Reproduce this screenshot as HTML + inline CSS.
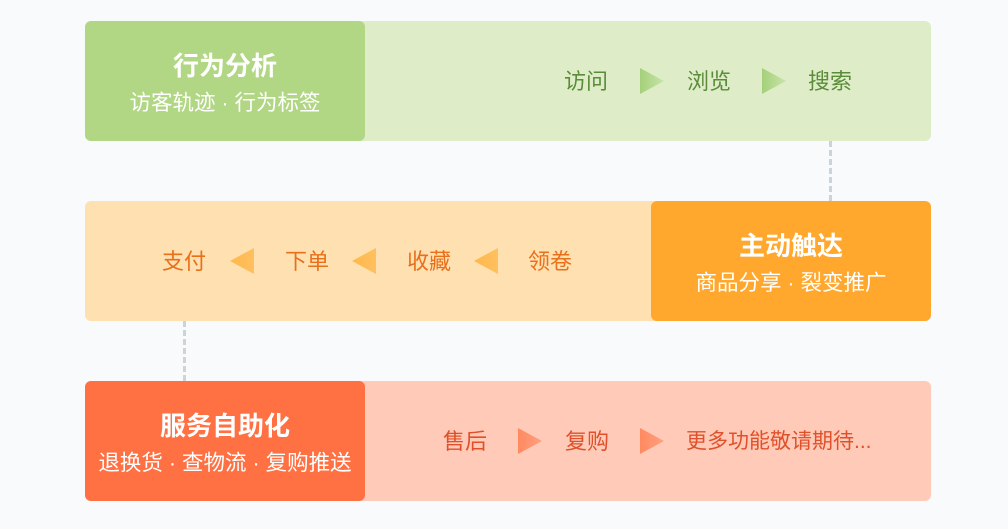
<!DOCTYPE html>
<html><head><meta charset="utf-8"><style>
body{margin:0;width:1008px;height:529px;background:#f9fafc;position:relative;overflow:hidden;font-family:"Liberation Sans","Noto Sans CJK SC",sans-serif}
.row{position:absolute;left:85px;width:846px;height:120px;border-radius:6px}
.box{position:absolute;top:0;width:280px;height:120px;border-radius:6px;color:#fff;text-align:center}
.box .t{position:absolute;left:0;right:0;top:29px;font-size:26px;font-weight:bold;line-height:32px}
.box .s{position:absolute;left:0;right:0;top:68px;font-size:21.5px;line-height:28px;white-space:nowrap}
.it{position:absolute;font-size:22px;line-height:28px;white-space:nowrap;transform:translateX(-50%)}
.ar{position:absolute;width:24px;height:26px}
.dash{position:absolute;width:0;border-left:3px dashed #ccd3d9}
</style></head><body>
<div class="dash" style="left:829px;top:141px;height:60px"></div>
<div class="dash" style="left:183px;top:321px;height:60px"></div>

<div class="row" style="top:21px;background:#deedc8">
 <div class="box" style="left:0;background:#b1d684"><div class="t">行为分析</div><div class="s">访客轨迹 · 行为标签</div></div>
 <div class="it" style="left:501px;top:47px;color:#5b8c3a">访问</div>
 <svg class="ar" style="left:555px;top:47px"><defs><linearGradient id="g1"><stop offset="0" stop-color="#a4d07a"/><stop offset="1" stop-color="#c8e4a8"/></linearGradient></defs><polygon points="0,0 24,13 0,26" fill="url(#g1)"/></svg>
 <div class="it" style="left:624px;top:47px;color:#5b8c3a">浏览</div>
 <svg class="ar" style="left:677px;top:47px"><polygon points="0,0 24,13 0,26" fill="url(#g1)"/></svg>
 <div class="it" style="left:745px;top:47px;color:#5b8c3a">搜索</div>
</div>

<div class="row" style="top:201px;background:#ffe0b0">
 <div class="box" style="left:566px;background:#ffa82d"><div class="t">主动触达</div><div class="s">商品分享 · 裂变推广</div></div>
 <div class="it" style="left:99px;top:47px;color:#e8701a">支付</div>
 <svg class="ar" style="left:145px;top:47px"><defs><linearGradient id="g2"><stop offset="0" stop-color="#ffb84a"/><stop offset="1" stop-color="#ffc060"/></linearGradient></defs><polygon points="24,0 0,13 24,26" fill="url(#g2)"/></svg>
 <div class="it" style="left:222px;top:47px;color:#e8701a">下单</div>
 <svg class="ar" style="left:267px;top:47px"><polygon points="24,0 0,13 24,26" fill="url(#g2)"/></svg>
 <div class="it" style="left:344px;top:47px;color:#e8701a">收藏</div>
 <svg class="ar" style="left:389px;top:47px"><polygon points="24,0 0,13 24,26" fill="url(#g2)"/></svg>
 <div class="it" style="left:465px;top:47px;color:#e8701a">领卷</div>
</div>

<div class="row" style="top:381px;background:#ffcbb8">
 <div class="box" style="left:0;background:#ff7043"><div class="t">服务自助化</div><div class="s">退换货 · 查物流 · 复购推送</div></div>
 <div class="it" style="left:380px;top:47px;color:#e0502a">售后</div>
 <svg class="ar" style="left:433px;top:47px"><defs><linearGradient id="g3"><stop offset="0" stop-color="#ff8a60"/><stop offset="1" stop-color="#ffa080"/></linearGradient></defs><polygon points="0,0 24,13 0,26" fill="url(#g3)"/></svg>
 <div class="it" style="left:502px;top:47px;color:#e0502a">复购</div>
 <svg class="ar" style="left:555px;top:47px"><polygon points="0,0 24,13 0,26" fill="url(#g3)"/></svg>
 <div class="it" style="left:601px;top:47px;color:#e0502a;transform:none;font-size:21px">更多功能敬请期待...</div>
</div>
</body></html>
